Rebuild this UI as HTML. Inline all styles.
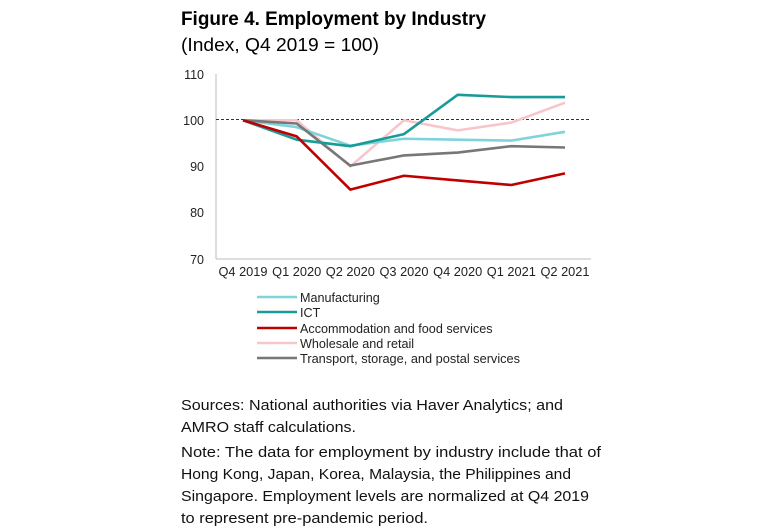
<!DOCTYPE html>
<html><head><meta charset="utf-8"><style>
body{margin:0;background:#fff;width:768px;height:530px;overflow:hidden;position:relative;font-family:"Liberation Sans",sans-serif}
</style></head><body>
<svg width="768" height="530" style="position:absolute;left:0;top:0">
<text x="181" y="25" font-size="19" font-weight="bold" textLength="305" lengthAdjust="spacingAndGlyphs">Figure 4. Employment by Industry</text>
<text x="181" y="51" font-size="18" textLength="198" lengthAdjust="spacingAndGlyphs">(Index, Q4 2019 = 100)</text>
<g font-size="12.5" fill="#222" text-anchor="end">
<text x="204" y="79">110</text><text x="204" y="125">100</text><text x="204" y="171">90</text><text x="204" y="217">80</text><text x="204" y="264">70</text>
</g>
<line x1="216" y1="74" x2="216" y2="259" stroke="#bbb"/>
<line x1="216" y1="259" x2="591" y2="259" stroke="#bbb"/>
<line x1="216" y1="119.5" x2="591" y2="119.5" stroke="#333" stroke-dasharray="3,2" stroke-width="1"/>
<g font-size="12.8" fill="#222" text-anchor="middle">
<text x="243" y="276">Q4 2019</text><text x="296.7" y="276">Q1 2020</text><text x="350.3" y="276">Q2 2020</text><text x="404" y="276">Q3 2020</text><text x="457.7" y="276">Q4 2020</text><text x="511.3" y="276">Q1 2021</text><text x="565" y="276">Q2 2021</text>
</g>
<g fill="none" stroke-width="2.6" stroke-linejoin="round">
<polyline stroke="#f7c6cb" points="243,120.25 296.7,120.25 350.3,166.5 404,120.25 457.7,130.4 511.3,122.6 565,102.7"/>
<polyline stroke="#7fd3da" points="243,120.25 296.7,127.1 350.3,145.7 404,138.75 457.7,139.7 511.3,140.6 565,131.8"/>
<polyline stroke="#777" points="243,120.25 296.7,123.5 350.3,165.6 404,155.4 457.7,152.6 511.3,146.15 565,147.5"/>
<polyline stroke="#1a9a98" points="243,120.25 296.7,139.7 350.3,146.2 404,134.1 457.7,94.8 511.3,97.1 565,97.1"/>
<polyline stroke="#c00000" points="243,120.25 296.7,136.4 350.3,189.6 404,175.75 457.7,180.4 511.3,185 565,173.4"/>
</g>
<g stroke-width="2.6">
<line x1="257" y1="297" x2="297" y2="297" stroke="#7fd3da"/>
<line x1="257" y1="312" x2="297" y2="312" stroke="#1a9a98"/>
<line x1="257" y1="328" x2="297" y2="328" stroke="#c00000"/>
<line x1="257" y1="343" x2="297" y2="343" stroke="#f7c6cb"/>
<line x1="257" y1="358" x2="297" y2="358" stroke="#777"/>
</g>
<g font-size="12.6" fill="#222">
<text x="300" y="302">Manufacturing</text><text x="300" y="317">ICT</text><text x="300" y="333">Accommodation and food services</text><text x="300" y="348">Wholesale and retail</text><text x="300" y="363" textLength="220" lengthAdjust="spacingAndGlyphs">Transport, storage, and postal services</text>
</g>
<g font-size="15" fill="#111" lengthAdjust="spacingAndGlyphs">
<text x="181" y="410" textLength="382" lengthAdjust="spacingAndGlyphs">Sources: National authorities via Haver Analytics; and</text>
<text x="181" y="432" textLength="175" lengthAdjust="spacingAndGlyphs">AMRO staff calculations.</text>
<text x="181" y="457" textLength="420" lengthAdjust="spacingAndGlyphs">Note: The data for employment by industry include that of</text>
<text x="181" y="479" textLength="390" lengthAdjust="spacingAndGlyphs">Hong Kong, Japan, Korea, Malaysia, the Philippines and</text>
<text x="181" y="501" textLength="408" lengthAdjust="spacingAndGlyphs">Singapore. Employment levels are normalized at Q4 2019</text>
<text x="181" y="523" textLength="247" lengthAdjust="spacingAndGlyphs">to represent pre-pandemic period.</text>
</g>
</svg>
</body></html>
